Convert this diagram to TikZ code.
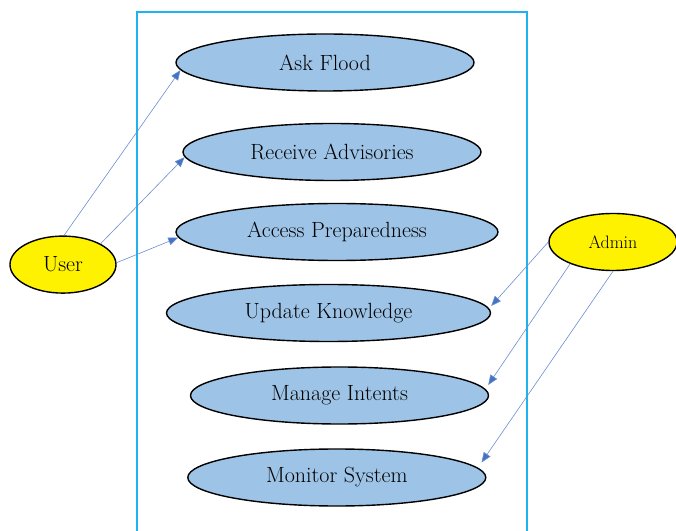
\documentclass[tikz,border=0pt]{standalone}
\usepackage{tikz}
\usetikzlibrary{arrows.meta,shapes.geometric,positioning}

\definecolor{casefill}{HTML}{9DC3E6}
\definecolor{framecol}{HTML}{1FB2EE}
\definecolor{linkcol}{HTML}{4472C4}

\tikzset{
  usecase/.style = {ellipse, draw, line width=1.4pt, fill=casefill,
                    minimum width=298pt, minimum height=57pt,
                    font=\fontsize{22}{26}\selectfont},
  actor/.style   = {ellipse, draw, line width=1.4pt, fill=yellow,
                    minimum height=57pt},
  link/.style    = {draw=linkcol!80, line width=0.6pt,
                    -{Triangle[length=10pt,width=8pt,fill=linkcol]}}
}

\begin{document}
\begin{tikzpicture}[x=1pt, y=1pt, node distance=82pt]
\useasboundingbox (0,0) rectangle (676,530);

% system boundary, open at the bottom
\draw[framecol, line width=2.4pt] (137,-10) |- (527,518) -- (527,-10);

\node (A) [usecase] at (325,467.5)                            {Ask Flood};
\node (B) [usecase, below of = A, xshift = 7pt, yshift = -7.5pt] {Receive Advisories};
\node (C) [usecase, below of = B, xshift = 5pt, yshift = 2pt, minimum width=322pt] {Access Preparedness};
\node (D) [usecase, below of = C, xshift = -8.5pt, yshift = 1pt, minimum width=324pt] {Update Knowledge};
\node (E) [usecase, below of = D, xshift = 11pt, yshift = -0.5pt]  {Manage Intents};
\node (F) [usecase, below of = E, xshift = -2.7pt]             {Monitor System};

\node (U) [actor, minimum width=106pt, font=\fontsize{22}{26}\selectfont] at (63,265.4) {User};
\node (M) [actor, minimum width=128pt, font=\fontsize{18}{22}\selectfont] at (613,288) {Admin};

\draw[link] (U.88)  -- (A.183);
\draw[link] (U.29)  -- (B.182);
\draw[link] (U.2)   -- (C.182);
\draw[link] (M.west)  -- ([shift={(0,7)}]D.east);
\draw[link] (M.207)   -- ([shift={(-1,10.5)}]E.east);
\draw[link] (M.south) -- ([shift={(-5,15)}]F.east);
\end{tikzpicture}
\end{document}
